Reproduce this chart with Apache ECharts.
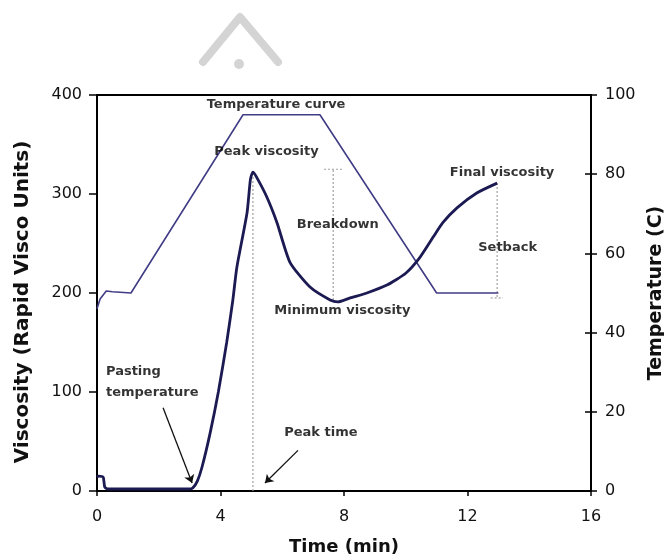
<!DOCTYPE html>
<html><head><meta charset="utf-8">
<script src="https://cdn.jsdelivr.net/npm/echarts@6/dist/echarts.min.js"></script>
<style>html,body{margin:0;padding:0;background:#fff}#c{width:664px;height:559px}</style>
</head><body><div id="c"></div>
<script>
// ---- data ----
const viscTime = [0,0.05,0.2,0.25,0.35,1,2,3,3.1,3.25,3.4,3.66,3.93,4.2,4.4,4.53,4.86,4.97,5.05,5.15,5.5,5.83,6.25,6.9,7.55,7.8,8.2,8.74,9.39,10.0,10.46,10.9,11.2,11.66,12.3,12.96];
const viscVal  = [14,15,14,4,2,2,2,2,3,10,24,58,100,150,193,226,281,315,322,318,297,271,231,206,193,191,195,200,208,220,236,257,271,286,301,311];
const tempTime = [0,0.1,0.3,0.5,1.1,4.73,7.22,11.0,13.0];
const tempVal  = [46,48.5,50.5,50.3,50,95,95,50,50];
const peakTimeLine = [[5.05,0],[5.05,322]];
const breakdownLine = [[7.65,193],[7.65,325]];
const breakdownCap = [[7.35,325],[7.95,325]];
const setbackLine = [[12.96,311],[12.96,195]];
const setbackCap = [[12.75,195],[13.15,195]];
const annTexts = ['Temperature curve','Peak viscosity','Breakdown','Minimum viscosity','Final viscosity','Setback','Peak time'];
const annX = [5.8,5.49,7.8,7.95,13.12,13.3,7.25];
const annY = [390,343,269,182,322,246,59];
const pastingText = 'Pasting\ntemperature';
const pastingPos = [0.29,110];
const arrows = [[[2.14,84],[3.08,8]],[[6.51,41],[5.44,8]]];

const chart = echarts.init(document.getElementById('c'));
const font = 'DejaVu Sans, Liberation Sans, sans-serif';
const dotted = {color:'#a0a0a0', width:1.2, type:[2,2]};
function seg(d){return {type:'line', yAxisIndex:0, data:d, symbol:'none', lineStyle:dotted, silent:true, z:1};}
const titleStyle = {fontFamily:font, fontWeight:'bold', color:'#111'};
const tickLbl = {fontFamily:font, fontSize:16, color:'#111'};
chart.setOption({
  animation:false,
  grid:{left:97, right:73, top:95, bottom:68, show:true, borderColor:'#000', borderWidth:2, outerBoundsMode:'none', containLabel:false},
  graphic:[{type:'polyline', shape:{points:[[203,62],[240,17],[278,62]]}, style:{stroke:'#d4d4d4', lineWidth:8, fill:null, lineJoin:'round', lineCap:'round'}},
           {type:'circle', shape:{cx:239, cy:64, r:5}, style:{fill:'#d4d4d4'}}],
  xAxis:{type:'value', min:0, max:16, interval:4,
    name:'Time (min)', nameLocation:'middle', nameGap:47, nameTextStyle:Object.assign({fontSize:18}, titleStyle),
    axisLine:{lineStyle:{color:'#000', width:2}},
    axisTick:{show:true, length:5, lineStyle:{color:'#000', width:1.5}},
    axisLabel:Object.assign({margin:18}, tickLbl),
    splitLine:{show:false}},
  yAxis:[{type:'value', min:0, max:400, interval:100,
    name:'Viscosity (Rapid Visco Units)', nameLocation:'middle', nameGap:64, nameRotate:90,
    nameTextStyle:Object.assign({fontSize:20, padding:[0,18,0,0]}, titleStyle),
    axisLine:{show:true, lineStyle:{color:'#000', width:2}},
    axisTick:{show:true, length:8, lineStyle:{color:'#000', width:1.5}},
    axisLabel:Object.assign({margin:15}, tickLbl),
    splitLine:{show:false}},
   {type:'value', min:0, max:100, interval:20, position:'right',
    name:'Temperature (C)', nameLocation:'middle', nameGap:53, nameRotate:90,
    nameTextStyle:Object.assign({fontSize:19}, titleStyle),
    axisLine:{show:true, lineStyle:{color:'#000', width:2}},
    axisTick:{show:true, length:6, lineStyle:{color:'#000', width:1.5}},
    axisLabel:Object.assign({margin:14}, tickLbl),
    splitLine:{show:false}},
   {type:'value', min:0, max:100, interval:20, position:'right',
    axisLine:{show:false}, axisTick:{show:true, inside:true, length:6, lineStyle:{color:'#000', width:1.5}},
    axisLabel:{show:false}, splitLine:{show:false}}],
  series:[
    seg(peakTimeLine), seg(breakdownLine), seg(breakdownCap), seg(setbackLine), seg(setbackCap),
    {type:'line', yAxisIndex:1, data:tempTime.map((t,i)=>[t,tempVal[i]]), symbol:'none',
     lineStyle:{color:'#413d85', width:1.6}, z:2},
    {type:'line', yAxisIndex:0, data:viscTime.map((t,i)=>[t,viscVal[i]]), symbol:'none', smooth:0.2,
     lineStyle:{color:'#1c1a52', width:2.8}, z:3},
    {type:'scatter', yAxisIndex:0, symbolSize:0, silent:true, z:5,
     data:annTexts.map((s,i)=>({value:[annX[i],annY[i]], name:s})),
     label:{show:true, position:'inside', formatter:p=>p.name, fontFamily:font, fontWeight:'bold', fontSize:13, color:'#000'}},
    {type:'scatter', yAxisIndex:0, symbolSize:0, silent:true, z:5,
     data:[{value:pastingPos, name:pastingText}],
     label:{show:true, position:'right', distance:0, align:'left', formatter:p=>p.name, fontFamily:font, fontWeight:'bold', fontSize:13, lineHeight:21, color:'#000'}},
    {type:'lines', coordinateSystem:'cartesian2d', yAxisIndex:0, silent:true, z:4,
     symbol:['none','arrow'], symbolSize:8,
     lineStyle:{color:'#111', width:1.3, opacity:1},
     data:arrows.map(a=>({coords:a}))}
  ]
});
</script></body></html>
